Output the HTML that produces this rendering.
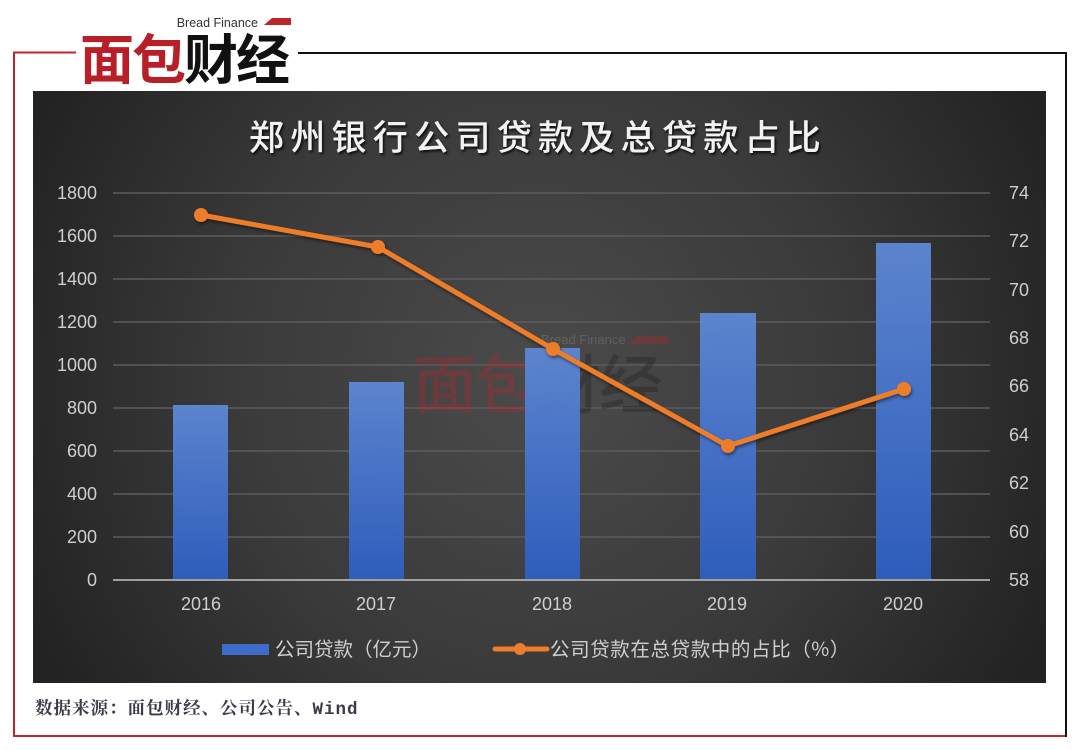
<!DOCTYPE html>
<html>
<head>
<meta charset="utf-8">
<style>
html,body{margin:0;padding:0;background:#fff;}
svg{display:block;}
</style>
</head>
<body>
<svg width="1080" height="750" viewBox="0 0 1080 750" xmlns="http://www.w3.org/2000/svg">
  <defs>
    <radialGradient id="bg" cx="540" cy="380" r="560" gradientUnits="userSpaceOnUse">
      <stop offset="0" stop-color="#4b4b4b"/>
      <stop offset="0.55" stop-color="#3a3a3a"/>
      <stop offset="1" stop-color="#232323"/>
    </radialGradient>
    <linearGradient id="bar" x1="0" y1="0" x2="0" y2="1">
      <stop offset="0" stop-color="#5d86d2"/>
      <stop offset="1" stop-color="#2d5ebf"/>
    </linearGradient>
    <filter id="tsh" x="-10%" y="-30%" width="120%" height="160%">
      <feDropShadow dx="1.5" dy="2" stdDeviation="1.2" flood-color="#000" flood-opacity="0.8"/>
    </filter>
    <filter id="lsh" x="-10%" y="-10%" width="120%" height="130%">
      <feDropShadow dx="1" dy="2" stdDeviation="1.5" flood-color="#000" flood-opacity="0.5"/>
    </filter>
  </defs>

  <!-- frame -->
  <line x1="14" y1="52" x2="14" y2="737" stroke="#c0242b" stroke-width="2"/>
  <line x1="13" y1="736" x2="1067" y2="736" stroke="#c0242b" stroke-width="2"/>
  <line x1="13" y1="52.5" x2="76" y2="52.5" stroke="#c0242b" stroke-width="2"/>
  <line x1="298" y1="53" x2="1067" y2="53" stroke="#111" stroke-width="2"/>
  <line x1="1066" y1="52" x2="1066" y2="737" stroke="#111" stroke-width="2"/>

  <!-- logo -->
  <text x="258" y="27" font-family="Liberation Sans, sans-serif" font-size="12.5" fill="#333" text-anchor="end">Bread Finance</text>
  <polygon points="264,25 272,18 291,18 291,25" fill="#c0242b"/>
  <text x="80" y="79" font-family="Noto Sans CJK SC, WenQuanYi Zen Hei, sans-serif" font-weight="bold" font-size="54" fill="#b81f27" letter-spacing="-2">面包<tspan fill="#111">财经</tspan></text>

  <!-- chart panel -->
  <rect x="33" y="91" width="1013" height="592" fill="url(#bg)"/>

  <!-- title -->
  <text x="538" y="150" text-anchor="middle" font-family="Noto Sans CJK SC, WenQuanYi Zen Hei, sans-serif" font-weight="500" font-size="35" fill="#f2f2f2" letter-spacing="6.3" filter="url(#tsh)">郑州银行公司贷款及总贷款占比</text>

  <!-- gridlines -->
  <g stroke="#5c5c5c" stroke-width="1.5">
    <line x1="113" y1="193" x2="990" y2="193"/>
    <line x1="113" y1="236" x2="990" y2="236"/>
    <line x1="113" y1="279" x2="990" y2="279"/>
    <line x1="113" y1="322" x2="990" y2="322"/>
    <line x1="113" y1="365" x2="990" y2="365"/>
    <line x1="113" y1="408" x2="990" y2="408"/>
    <line x1="113" y1="451" x2="990" y2="451"/>
    <line x1="113" y1="494" x2="990" y2="494"/>
    <line x1="113" y1="537" x2="990" y2="537"/>
  </g>

  <!-- watermark -->
  <g opacity="0.3">
    <text x="541" y="344" font-family="Liberation Sans, sans-serif" font-size="13" fill="#9a9a9a">Bread Finance</text>
    <polygon points="629,344 637,336 668,336 668,344" fill="#c0242b"/>
    <text x="413" y="408" font-family="Noto Sans CJK SC, WenQuanYi Zen Hei, sans-serif" font-weight="500" font-size="64" fill="#c0242b" letter-spacing="-2">面包<tspan fill="#1a1a1a">财经</tspan></text>
  </g>

  <!-- bars -->
  <g fill="url(#bar)" opacity="0.97">
    <rect x="173" y="405" width="55" height="175"/>
    <rect x="349" y="382" width="55" height="198"/>
    <rect x="525" y="348" width="55" height="232"/>
    <rect x="700" y="313" width="56" height="267"/>
    <rect x="876" y="243" width="55" height="337"/>
  </g>

  <!-- base axis -->
  <line x1="113" y1="580" x2="990" y2="580" stroke="#a0a0a0" stroke-width="2"/>

  <!-- line series -->
  <g filter="url(#lsh)">
    <polyline points="201,215 378,247 553,349 728,446 904,389" fill="none" stroke="#ee7d2a" stroke-width="5" stroke-linejoin="round"/>
    <g fill="#ee7d2a">
      <circle cx="201" cy="215" r="7"/>
      <circle cx="378" cy="247" r="7"/>
      <circle cx="553" cy="349" r="7"/>
      <circle cx="728" cy="446" r="7"/>
      <circle cx="904" cy="389" r="7"/>
    </g>
  </g>

  <!-- left axis labels -->
  <g font-family="Liberation Sans, sans-serif" font-size="18" fill="#cfcfcf" text-anchor="end">
    <text x="97" y="199">1800</text>
    <text x="97" y="242">1600</text>
    <text x="97" y="285">1400</text>
    <text x="97" y="328">1200</text>
    <text x="97" y="371">1000</text>
    <text x="97" y="414">800</text>
    <text x="97" y="457">600</text>
    <text x="97" y="500">400</text>
    <text x="97" y="543">200</text>
    <text x="97" y="586">0</text>
  </g>

  <!-- right axis labels -->
  <g font-family="Liberation Sans, sans-serif" font-size="18" fill="#cfcfcf" text-anchor="start">
    <text x="1009" y="199">74</text>
    <text x="1009" y="247">72</text>
    <text x="1009" y="296">70</text>
    <text x="1009" y="344">68</text>
    <text x="1009" y="392">66</text>
    <text x="1009" y="441">64</text>
    <text x="1009" y="489">62</text>
    <text x="1009" y="538">60</text>
    <text x="1009" y="586">58</text>
  </g>

  <!-- x axis labels -->
  <g font-family="Liberation Sans, sans-serif" font-size="18" fill="#cfcfcf" text-anchor="middle">
    <text x="201" y="610">2016</text>
    <text x="376" y="610">2017</text>
    <text x="552" y="610">2018</text>
    <text x="727" y="610">2019</text>
    <text x="903" y="610">2020</text>
  </g>

  <!-- legend -->
  <rect x="222" y="644" width="47" height="11" fill="#3f6ccb"/>
  <text x="275" y="656" font-family="Noto Sans CJK SC, WenQuanYi Zen Hei, sans-serif" font-size="19.5" fill="#cfcfcf">公司贷款（亿元）</text>
  <line x1="495" y1="649" x2="547" y2="649" stroke="#ee7d2a" stroke-width="5" stroke-linecap="round"/>
  <circle cx="520" cy="649" r="6" fill="#ee7d2a"/>
  <text x="550" y="656" font-family="Noto Sans CJK SC, WenQuanYi Zen Hei, sans-serif" font-size="19.5" fill="#cfcfcf" letter-spacing="0.6">公司贷款在总贷款中的占比（%）</text>

  <!-- source -->
  <text x="35" y="714" font-family="Liberation Mono, Noto Serif CJK SC, serif" font-weight="bold" font-size="17.5" fill="#3b3b4a" letter-spacing="1">数据来源：面包财经、公司公告、Wind</text>
</svg>
</body>
</html>
